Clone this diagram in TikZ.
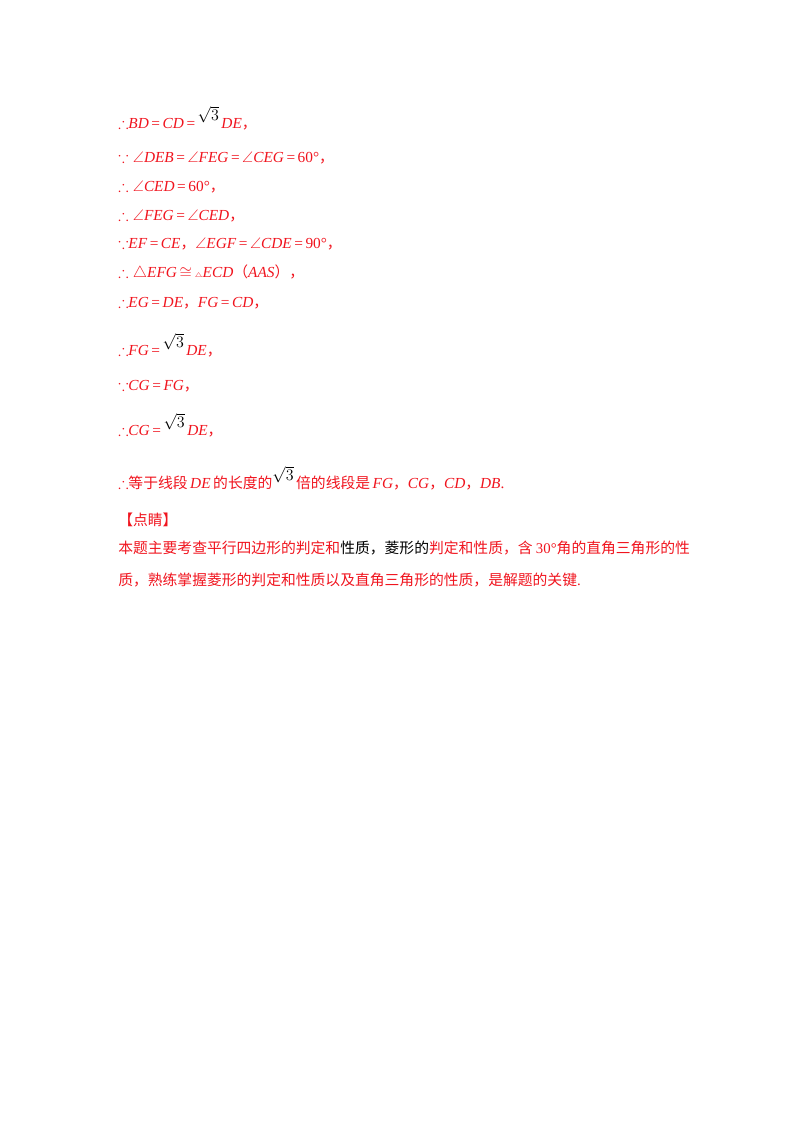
\documentclass[tikz,border=0pt]{standalone}
\usepackage{amssymb}
\usepackage{fontspec}
\setmainfont{Liberation Serif}
\newfontfamily\cjk{Noto Sans CJK SC}
\usetikzlibrary{positioning}
\definecolor{ansred}{RGB}{240,20,30}
\newcommand{\rtthree}{\raisebox{6pt}{\textcolor{black}{\fontsize{13}{13}\selectfont$\sqrt{3}$}}}
\newcommand{\hz}[1]{{\cjk\fontsize{11.1}{13}\selectfont #1}}
\newcommand{\eqs}{\upshape\,=\,}
\tikzset{
  ln/.style={anchor=west, inner sep=0pt, text=ansred, font=\fontsize{11.5}{13}\selectfont\itshape},
  cn/.style={anchor=west, inner sep=0pt, text=ansred, font=\fontsize{11.1}{13}\selectfont\cjk}
}
\begin{document}
\begin{tikzpicture}[x=0.75pt,y=-0.75pt]
\useasboundingbox (0,0) rectangle (800,1132);
% proof lines
\node[ln] (l1) at (118,118) {\upshape$\therefore$\itshape BD\eqs\itshape CD\eqs\rtthree\,\itshape DE\upshape\hz{，}};
\node[ln] (l2) at (118,158) {\upshape$\because\angle$\itshape DEB\eqs$\angle$\itshape FEG\eqs$\angle$\itshape CEG\eqs 60°\hz{，}};
\node[ln] (l3) at (118,187) {\upshape$\therefore\angle$\itshape CED\eqs 60°\hz{，}};
\node[ln] (l4) at (118,216) {\upshape$\therefore\angle$\itshape FEG\eqs$\angle$\itshape CED\upshape\hz{，}};
\node[ln] (l5) at (118,244) {\upshape$\because$\itshape EF\eqs\itshape CE\upshape\hz{，}$\angle$\itshape EGF\eqs$\angle$\itshape CDE\eqs 90°\hz{，}};
\node[ln] (l6) at (118,273) {\upshape$\therefore\triangle$\itshape EFG\upshape\,$\cong$\,{\tiny$\triangle$}\itshape ECD\upshape\hz{（}\itshape AAS\upshape\hz{）}\hz{，}};
\node[ln] (l7) at (118,303) {\upshape$\therefore$\itshape EG\eqs\itshape DE\upshape\hz{，}\itshape FG\eqs\itshape CD\upshape\hz{，}};
\node[ln] (l8) at (118,345) {\upshape$\therefore$\itshape FG\eqs\rtthree\,\itshape DE\upshape\hz{，}};
\node[ln] (l9) at (118,386) {\upshape$\because$\itshape CG\eqs\itshape FG\upshape\hz{，}};
\node[ln] (l10) at (118,425) {\upshape$\therefore$\itshape CG\eqs\rtthree\,\itshape DE\upshape\hz{，}};
\node[ln] (l11) at (118,478) {\upshape\textbf{$\therefore$}\hz{等于线段}\,\itshape DE\,\upshape\hz{的长度的}\rtthree\,\hz{倍的线段是}\,\itshape FG\upshape\hz{，}\itshape CG\upshape\hz{，}\itshape CD\upshape\hz{，}\itshape DB\upshape.};
% comment
\node[cn] (dj) at (118,520) {【点睛】};
\node[cn] (c1) at (118,548) {本题主要考查平行四边形的判定和\textcolor{black}{性质，菱形的}判定和性质，含 {\rmfamily 30°}角的直角三角形的性};
\node[cn] (c2) at (118,580) {质，熟练掌握菱形的判定和性质以及直角三角形的性质，是解题的关键{\rmfamily .}};
\end{tikzpicture}
\end{document}
